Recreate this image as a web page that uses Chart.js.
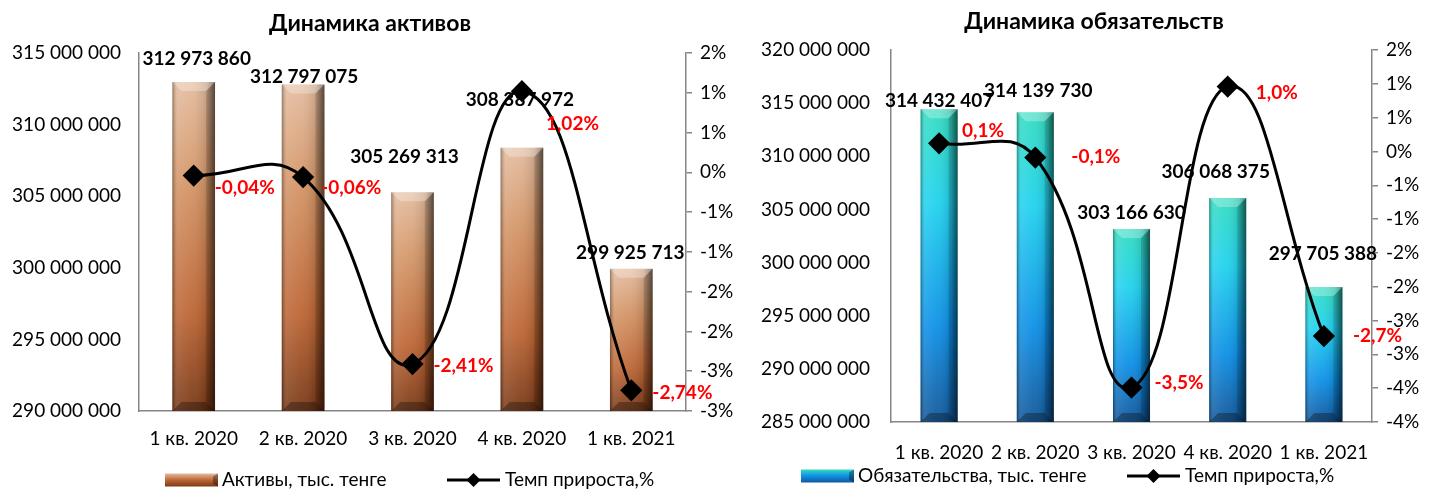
<!DOCTYPE html>
<html>
<head>
<meta charset="utf-8">
<script src="https://cdn.jsdelivr.net/npm/chart.js@4.4.1/dist/chart.umd.min.js"></script>
<style>
  body { margin: 0; background: #fff; width: 1439px; height: 489px; overflow: hidden; position: relative; }
  #aktivy { position: absolute; left: 0; top: 0; }
  #obyaz { position: absolute; left: 745px; top: 0; }
</style>
</head>
<body>
<canvas id="aktivy" width="745" height="489"></canvas>
<canvas id="obyaz" width="694" height="489"></canvas>
<script>
var kvartaly = ['1 кв. 2020', '2 кв. 2020', '3 кв. 2020', '4 кв. 2020', '1 кв. 2021'];

var aktivy = [312973860, 312797075, 305269313, 308387972, 299925713];
var tempAktivy = [-0.04, -0.06, -2.41, 1.02, -2.74];

var obyaz = [314432407, 314139730, 303166630, 306068375, 297705388];
var tempObyaz = [0.12, -0.09, -3.49, 0.96, -2.73];

var FONT = 'Lato, "Open Sans", sans-serif';
var AXIS = '#868686';

function spaced(v) {
  return String(Math.round(v)).replace(/\B(?=(\d{3})+(?!\d))/g, ' ');
}
// excel style "0%" - half goes away from zero
function pctTick(v) {
  var r = Math.sign(v) * Math.round(Math.abs(v));
  return (r === 0 ? 0 : r) + '%';
}

// bevel look of excel bars
var bevelPlugin = {
  id: 'bevel',
  afterDatasetDraw: function (chart, args) {
    if (args.meta.type !== 'bar') return;
    var ctx = chart.ctx;
    args.meta.data.forEach(function (el) {
      var p = el.getProps(['x', 'y', 'width', 'base'], true);
      var l = p.x - p.width / 2, r = p.x + p.width / 2, t = p.y, bv = 9;
      var b = Math.min(p.base, chart.chartArea.bottom);
      ctx.save();
      var g = ctx.createLinearGradient(l, 0, r, 0);
      g.addColorStop(0, 'rgba(0,0,0,0.35)');
      g.addColorStop(0.12, 'rgba(255,255,255,0.12)');
      g.addColorStop(0.45, 'rgba(255,255,255,0.05)');
      g.addColorStop(0.8, 'rgba(0,0,0,0.12)');
      g.addColorStop(1, 'rgba(0,0,0,0.55)');
      ctx.fillStyle = g;
      ctx.fillRect(l, t, r - l, b - t);
      // top bevel
      ctx.beginPath();
      ctx.moveTo(l, t); ctx.lineTo(r, t); ctx.lineTo(r - bv, t + bv); ctx.lineTo(l + bv, t + bv); ctx.closePath();
      ctx.fillStyle = 'rgba(255,255,255,0.28)';
      ctx.fill();
      // side strip
      ctx.beginPath();
      ctx.moveTo(r, t); ctx.lineTo(r, b); ctx.lineTo(r - bv, b - bv); ctx.lineTo(r - bv, t + bv); ctx.closePath();
      ctx.fillStyle = 'rgba(0,0,0,0.15)';
      ctx.fill();
      // bottom bevel
      ctx.beginPath();
      ctx.moveTo(l, b); ctx.lineTo(r, b); ctx.lineTo(r - bv, b - bv); ctx.lineTo(l + bv, b - bv); ctx.closePath();
      ctx.fillStyle = 'rgba(0,0,0,0.3)';
      ctx.fill();
      ctx.restore();
    });
  }
};

var labelPlugin = {
  id: 'labels',
  afterDatasetsDraw: function (chart) {
    var o = chart.options.plugins.labels, ctx = chart.ctx;
    ctx.save();
    ctx.font = 'bold 19px ' + FONT;
    ctx.textBaseline = 'middle';
    chart.getDatasetMeta(1).data.forEach(function (el, i) {
      var p = el.getProps(['x', 'y'], true);
      ctx.fillStyle = '#000';
      ctx.textAlign = 'center';
      ctx.fillText(spaced(chart.data.datasets[1].data[i]), p.x + o.bar[i][0], p.y + o.bar[i][1]);
    });
    chart.getDatasetMeta(0).data.forEach(function (el, i) {
      var p = el.getProps(['x', 'y'], true);
      ctx.fillStyle = '#ff0000';
      ctx.textAlign = 'left';
      var v = chart.data.datasets[0].data[i].toFixed(o.dec).replace('.', ',') + '%';
      ctx.fillText(v, p.x + o.pct[i][0], p.y + o.pct[i][1]);
    });
    ctx.restore();
  }
};

var decorPlugin = {
  id: 'decor',
  afterDraw: function (chart) {
    var o = chart.options.plugins.decor, ctx = chart.ctx;
    ctx.save();
    ctx.fillStyle = '#000';
    ctx.textBaseline = 'middle';
    ctx.textAlign = 'center';
    ctx.font = 'bold 23px ' + FONT;
    ctx.fillText(o.title, o.titleX, o.titleY);

    // legend: bar swatch
    var sx = o.legX, sy = o.legY, sw = 53, sh = 13;
    var g = ctx.createLinearGradient(0, sy - sh / 2, 0, sy + sh / 2);
    g.addColorStop(0, o.colors[0]);
    g.addColorStop(0.5, o.colors[2]);
    g.addColorStop(1, o.colors[3]);
    ctx.fillStyle = g;
    ctx.fillRect(sx, sy - sh / 2, sw, sh);
    ctx.fillStyle = 'rgba(0,0,0,0.35)';
    ctx.beginPath();
    ctx.moveTo(sx + sw, sy - sh / 2); ctx.lineTo(sx + sw, sy + sh / 2); ctx.lineTo(sx + sw - 5, sy + sh / 2 - 3); ctx.lineTo(sx + sw - 5, sy - sh / 2 + 3); ctx.closePath();
    ctx.fill();
    ctx.fillStyle = '#000';
    ctx.textAlign = 'left';
    ctx.font = '19px ' + FONT;
    ctx.fillText(o.barLabel, sx + sw + 4, sy);

    // legend: line with diamond
    var lx = o.lineX;
    ctx.strokeStyle = '#000';
    ctx.lineWidth = 3;
    ctx.beginPath();
    ctx.moveTo(lx, sy); ctx.lineTo(lx + 53, sy);
    ctx.stroke();
    ctx.beginPath();
    ctx.moveTo(lx + 26.5, sy - 7); ctx.lineTo(lx + 33.5, sy); ctx.lineTo(lx + 26.5, sy + 7); ctx.lineTo(lx + 19.5, sy); ctx.closePath();
    ctx.fillStyle = '#000';
    ctx.fill();
    ctx.fillText('Темп прироста,%', lx + 58, sy);
    ctx.restore();
  }
};

function makeChart(id, bars, temp, s) {
  var cols = s.colors;
  return new Chart(document.getElementById(id), {
    data: {
      labels: kvartaly,
      datasets: [
        {
          type: 'line',
          label: 'Темп прироста,%',
          data: temp,
          yAxisID: 'y1',
          order: 0,
          borderColor: '#000',
          borderWidth: 3,
          tension: 0.45,
          pointStyle: 'rectRot',
          pointRadius: 9,
          pointBackgroundColor: '#000',
          pointBorderColor: '#000',
          clip: false
        },
        {
          type: 'bar',
          label: s.barLabel,
          data: bars,
          yAxisID: 'y',
          order: 1,
          barPercentage: s.barPct,
          categoryPercentage: 1,
          backgroundColor: function (c) {
            var ch = c.chart, a = ch.chartArea;
            if (!a || c.raw === undefined) return cols[1];
            var top = ch.scales.y.getPixelForValue(c.raw);
            var g = ch.ctx.createLinearGradient(0, top, 0, a.bottom);
            g.addColorStop(0, cols[0]);
            g.addColorStop(0.3, cols[1]);
            g.addColorStop(0.7, cols[2]);
            g.addColorStop(1, cols[3]);
            return g;
          }
        }
      ]
    },
    options: {
      responsive: false,
      animation: false,
      layout: { padding: { top: s.top, bottom: s.padBottom, left: 0, right: 0 } },
      plugins: {
        legend: { display: false },
        title: { display: false },
        tooltip: { enabled: false },
        labels: { bar: s.barOff, pct: s.pctOff, dec: s.dec },
        decor: {
          title: s.title, titleX: s.titleX, titleY: s.titleY,
          legX: s.legX, legY: s.legY, lineX: s.lineX,
          barLabel: s.barLabel, colors: cols
        }
      },
      scales: {
        x: {
          grid: { display: false, drawTicks: false },
          border: { color: AXIS, width: 1.5 },
          ticks: { color: '#000', font: { family: FONT, size: 19 }, padding: s.xPad, maxRotation: 0 },
          afterFit: function (sc) { sc.height = 52; }
        },
        y: {
          position: 'left',
          min: s.yMin, max: s.yMax,
          grid: { display: false, drawTicks: false },
          border: { color: AXIS, width: 1.5 },
          ticks: { stepSize: 5000000, color: '#000', font: { family: FONT, size: 19 }, padding: s.yPad, callback: spaced },
          afterFit: function (sc) { sc.width = s.yW; }
        },
        y1: {
          position: 'right',
          min: s.pMin, max: 1.5,
          grid: { drawOnChartArea: false, color: AXIS, lineWidth: 1.5, tickLength: 6 },
          border: { color: AXIS, width: 1.5 },
          ticks: { stepSize: 0.5, color: '#000', font: { family: FONT, size: 19 }, padding: 8, callback: pctTick },
          afterFit: function (sc) { sc.width = s.y1W; }
        }
      }
    },
    plugins: [bevelPlugin, labelPlugin, decorPlugin]
  });
}

makeChart('aktivy', aktivy, tempAktivy, {
  colors: ['#e4bc9f', '#d49668', '#bd6635', '#7a3a18'],
  barLabel: 'Активы, тыс. тенге',
  title: 'Динамика активов', titleX: 370, titleY: 24,
  legX: 165, legY: 480, lineX: 447,
  top: 53, padBottom: 489 - 411 - 52, xPad: 16,
  yW: 139, y1W: 59, yPad: 18,
  yMin: 290000000, yMax: 315000000, pMin: -3,
  barPct: 0.39, dec: 2,
  barOff: [[3, -23], [1, -8], [-8, -35], [-2, -48], [-1, -16]],
  pctOff: [[21, 12], [18, 11], [21, 2], [24, 33], [21, 3]]
});

makeChart('obyaz', obyaz, tempObyaz, {
  colors: ['#34dcc0', '#22d2ee', '#0e8fe6', '#13589a'],
  barLabel: 'Обязательства, тыс. тенге',
  title: 'Динамика обязательств', titleX: 349, titleY: 22,
  legX: 56, legY: 476, lineX: 382,
  top: 50, padBottom: 489 - 422 - 52, xPad: 19,
  yW: 146, y1W: 67, yPad: 21,
  yMin: 285000000, yMax: 320000000, pMin: -4,
  barPct: 0.385, dec: 1,
  barOff: [[0, -8], [3, -21], [0, -16], [-12, -26], [-1, -33]],
  pctOff: [[23, -12], [36, -1], [23, -5], [28, 6], [29, 0]]
});
</script>
</body>
</html>
